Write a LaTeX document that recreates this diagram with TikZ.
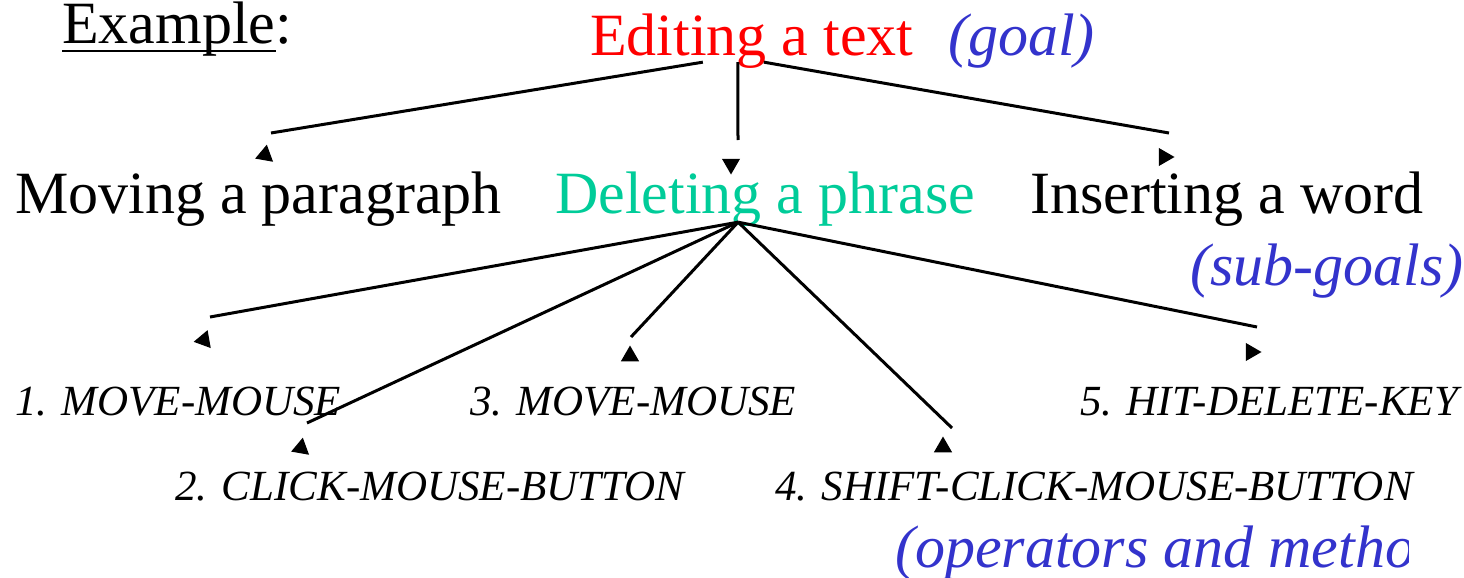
\documentclass[tikz,border=0pt]{standalone}
\usepackage{fontspec}
\setmainfont{Liberation Serif}
\usetikzlibrary{shapes.geometric}
\definecolor{goalred}{RGB}{255,0,0}
\definecolor{subgreen}{RGB}{0,204,153}
\definecolor{lblblue}{RGB}{51,51,204}

\begin{document}
\begin{tikzpicture}[
    x=1pt, y=-1pt,
    every node/.style={inner sep=0pt, anchor=base west},
    big/.style={font=\fontsize{60}{72}\selectfont},
    op/.style={font=\fontsize{43}{52}\selectfont\itshape},
    lbl/.style={font=\fontsize{60}{72}\selectfont\itshape, text=lblblue},
    ar/.style={-, line width=3pt},
    tip/.style={regular polygon, regular polygon sides=3, fill=black, minimum size=21pt, anchor=center},
  ]
  \useasboundingbox (0,0) rectangle (1464,578);

  % goal
  \node[big](ex) at (62,44) {Example};
  \node[big](colon) at (ex.base east) {:};
  \draw[line width=2.5pt] ([yshift=-7pt]ex.base west) -- ([yshift=-7pt]ex.base east);
  \node[big, text=goalred](goal) at (590,56) {Editing a text};
  \node[lbl](goallbl) at (948,56) {(goal)};

  % sub-goals
  \node[big](moving) at (15,213) {Moving a paragraph};
  \node[big, text=subgreen](deleting) at (555,213) {Deleting a phrase};
  \node[big](inserting) at (1030,213) {Inserting a word};
  \node[lbl](sublbl) at (1190,285) {(sub-goals)};

  % operators
  \node[op](op1) at (15,415) {1. MOVE-MOUSE};
  \node[op](op2) at (175,500) {2. CLICK-MOUSE-BUTTON};
  \node[op](op3) at (470,415) {3. MOVE-MOUSE};
  \node[op](op4) at (775,500) {4. SHIFT-CLICK-MOUSE-BUTTON};
  \node[op](op5) at (1080,415) {5. HIT-DELETE-KEY};
  \begin{scope}
    \clip (0,0) rectangle (1408,578);
    \node[lbl](oplbl) at (895,567) {(operators and metho};
  \end{scope}

  % line ends and tips
  \coordinate (e1) at (271,133);
  \coordinate (e2) at (738,140);
  \coordinate (e3) at (1169,133);
  \coordinate (e4) at (210,317);
  \coordinate (e5) at (307,423);
  \coordinate (e6) at (631,337);
  \coordinate (e7) at (952,428);
  \coordinate (e8) at (1257,327);

  \node[tip, rotate=110](t1) at (265,155) {};
  \node[tip, rotate=180](t2) at (731,164) {};
  \node[tip, rotate=-90](t3) at (1164,157) {};
  \node[tip, rotate=100](t4) at (204,340) {};
  \node[tip, rotate=-10](t5) at (301,448) {};
  \node[tip, rotate=120](t6) at (630,356) {};
  \node[tip](t7) at (943,447) {};
  \node[tip, rotate=-90](t8) at (1251,352) {};

  \path[ar]
  ([xshift=-49pt,yshift=7pt]goal.south) edge (e1)
  ([xshift=-14pt,yshift=7pt]goal.south) edge (e2)
  ([xshift=12pt,yshift=7pt]goal.south) edge (e3)

  ([xshift=-27pt,yshift=4pt]deleting.south) edge (e4) edge (e5) edge (e6)
  edge (e7) edge (e8)
  ;
\end{tikzpicture}
\end{document}
